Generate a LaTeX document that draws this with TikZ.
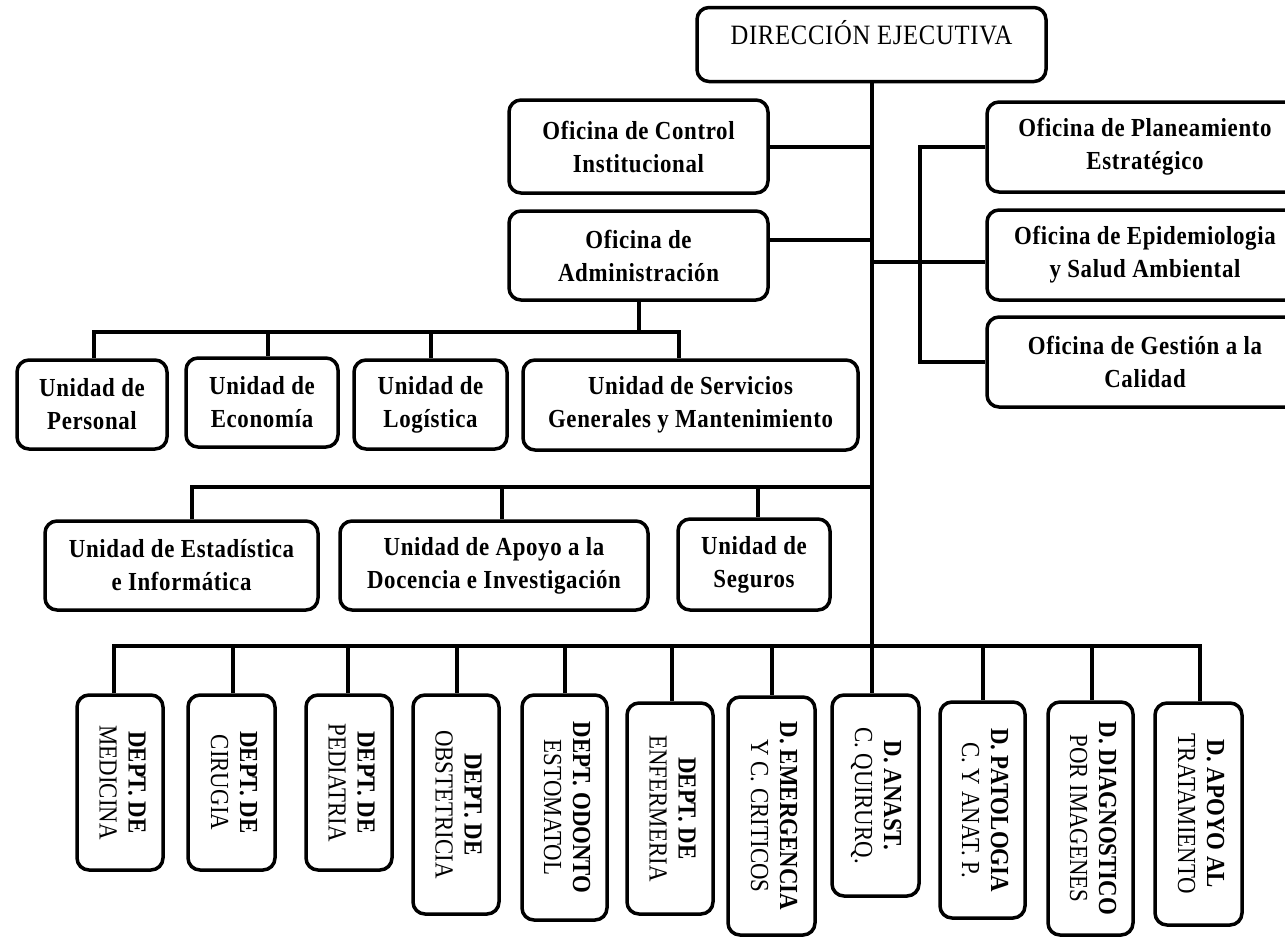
\documentclass[tikz,border=0pt]{standalone}
\usepackage{fontspec}
\usepackage{graphicx}
\setmainfont{Liberation Serif}[FakeStretch=0.88,LetterSpace=2.5]
\newfontfamily\vfont{Liberation Serif}[FakeStretch=0.88]
\newcommand{\vtx}[2]{\rotatebox{-90}{\vfont\fontsize{26pt}{29pt}\selectfont\begin{tabular}{@{}c@{}}\bfseries #1\\ #2\end{tabular}}}
\tikzset{
  box/.style={draw=black, line width=3.5pt, rounded corners=12pt, fill=white,
    inner sep=0pt, align=center, font=\fontsize{26pt}{33pt}\selectfont\bfseries},
  vbox/.style={draw=black, line width=3.5pt, rounded corners=12pt, fill=white,
    inner sep=0pt},
  conn/.style={draw=black, line width=4pt}
}
\begin{document}
\begin{tikzpicture}[x=1pt,y=-1pt]
\useasboundingbox[fill=white] (0,0) rectangle (1285,938);
% top
\node[box, font=\fontsize{28pt}{33pt}\selectfont, minimum width=349pt, minimum height=74pt] (dir) at (871.5,44.5) {\smash{DIRECCIÓN EJECUTIVA}};
\node[box, minimum width=259pt, minimum height=93pt] (ctrl) at (638.5,146.5) {Oficina de Control\\Institucional};
\node[box, minimum width=259pt, minimum height=89pt] (adm) at (638.5,255.5) {Oficina de\\Administración};
\node[box, minimum width=316pt, minimum height=90pt] (plan) at (1145,147) {Oficina de Planeamiento\\Estratégico};
\node[box, minimum width=316pt, minimum height=90pt] (epi) at (1145,255) {Oficina de Epidemiologia\\y Salud Ambiental};
\node[box, minimum width=316pt, minimum height=90pt] (ges) at (1145,362) {Oficina de Gestión a la\\Calidad};
% units row 1
\node[box, minimum width=150pt, minimum height=89pt] (pers) at (92,404.5) {Unidad de\\Personal};
\node[box, minimum width=152pt, minimum height=89pt] (eco) at (262,402.5) {Unidad de\\Economía};
\node[box, minimum width=153pt, minimum height=89pt] (log) at (430.5,404.5) {Unidad de\\Logística};
\node[box, minimum width=335pt, minimum height=90pt] (serv) at (690.5,405) {Unidad de Servicios\\Generales y Mantenimiento};
% units row 2
\node[box, minimum width=273pt, minimum height=89pt] (est) at (181.5,565.5) {Unidad de Estadística\\e Informática};
\node[box, minimum width=308pt, minimum height=89pt] (apo) at (494,565.5) {Unidad de Apoyo a la\\Docencia e Investigación};
\node[box, minimum width=152pt, minimum height=91pt] (seg) at (754,564.5) {Unidad de\\Seguros};
% departments
\node[vbox, minimum width=86pt, minimum height=175pt] (med) at (120,782.5) {\vtx{DEPT. DE}{MEDICINA}};
\node[vbox, minimum width=87pt, minimum height=175pt] (cir) at (231.5,782.5) {\vtx{DEPT. DE}{CIRUGIA}};
\node[vbox, minimum width=86pt, minimum height=175pt] (ped) at (349,782.5) {\vtx{DEPT. DE}{PEDIATRIA}};
\node[vbox, minimum width=86pt, minimum height=219pt] (obs) at (456,804.5) {\vtx{DEPT. DE}{OBSTETRICIA}};
\node[vbox, minimum width=85pt, minimum height=225pt] (odo) at (564.5,807.5) {\vtx{DEPT. ODONTO}{ESTOMATOL}};
\node[vbox, minimum width=86pt, minimum height=211pt] (enf) at (670,808.5) {\vtx{DEPT. DE}{ENFERMERIA}};
\node[vbox, minimum width=87pt, minimum height=238pt] (eme) at (771.5,816) {\vtx{D. EMERGENCIA}{Y C. CRITICOS}};
\node[vbox, minimum width=87pt, minimum height=201pt] (ana) at (875.5,795.5) {\vtx{D. ANAST.}{C. QUIRURQ.}};
\node[vbox, minimum width=85pt, minimum height=216pt] (pat) at (982.5,810) {\vtx{D. PATOLOGIA}{C. Y ANAT. P.}};
\node[vbox, minimum width=85pt, minimum height=233pt] (dia) at (1090.5,818.5) {\vtx{D. DIAGNOSTICO}{POR IMAGENES}};
\node[vbox, minimum width=87pt, minimum height=222pt] (apt) at (1198.5,814) {\vtx{D. APOYO AL}{TRATAMIENTO}};
% coordinates
\coordinate (aj) at (872,240);
\coordinate (rj) at (872,262);
\coordinate (rb) at (920,262);
\coordinate (t1) at (94,332);
\coordinate (t2) at (268,332);
\coordinate (t3) at (431,332);
\coordinate (t4) at (679,332);
\coordinate (r1) at (192,487);
\coordinate (r2) at (502,487);
\coordinate (r3) at (758,487);
\coordinate (b1) at (114,646);
\coordinate (b2) at (233,646);
\coordinate (b3) at (348,646);
\coordinate (b4) at (457,646);
\coordinate (b5) at (565,646);
\coordinate (b6) at (672,646);
\coordinate (b7) at (772,646);
\coordinate (b9) at (983,646);
\coordinate (b10) at (1092,646);
\coordinate (b11) at (1200,646);
% connectors
\draw[conn] (dir.south) -- (dir.south |- ana.north);
\draw[conn] (ctrl.east) -- (ctrl.east -| dir.south);
\draw[conn] (adm.east |- aj) -- (aj);
\draw[conn] (rj) -- (epi.west |- rj);
\draw[conn] (plan.west) -- (plan.west -| rb) -- (ges.west -| rb) -- (ges.west);
\draw[conn] (adm.south) -- (adm.south |- t1);
\draw[conn] (pers.north -| t1) -- (t1) -- (t4) -- (serv.north -| t4);
\draw[conn] (t2) -- (eco.north -| t2);
\draw[conn] (t3) -- (log.north -| t3);
\draw[conn] (est.north -| r1) -- (r1) -- (dir.south |- r1);
\draw[conn] (r2) -- (apo.north -| r2);
\draw[conn] (r3) -- (seg.north -| r3);
\draw[conn] (med.north -| b1) -- (b1) -- (b11) -- (apt.north -| b11);
\draw[conn] (b2) -- (cir.north -| b2);
\draw[conn] (b3) -- (ped.north -| b3);
\draw[conn] (b4) -- (obs.north -| b4);
\draw[conn] (b5) -- (odo.north -| b5);
\draw[conn] (b6) -- (enf.north -| b6);
\draw[conn] (b7) -- (eme.north -| b7);
\draw[conn] (b9) -- (pat.north -| b9);
\draw[conn] (b10) -- (dia.north -| b10);
\end{tikzpicture}
\end{document}
